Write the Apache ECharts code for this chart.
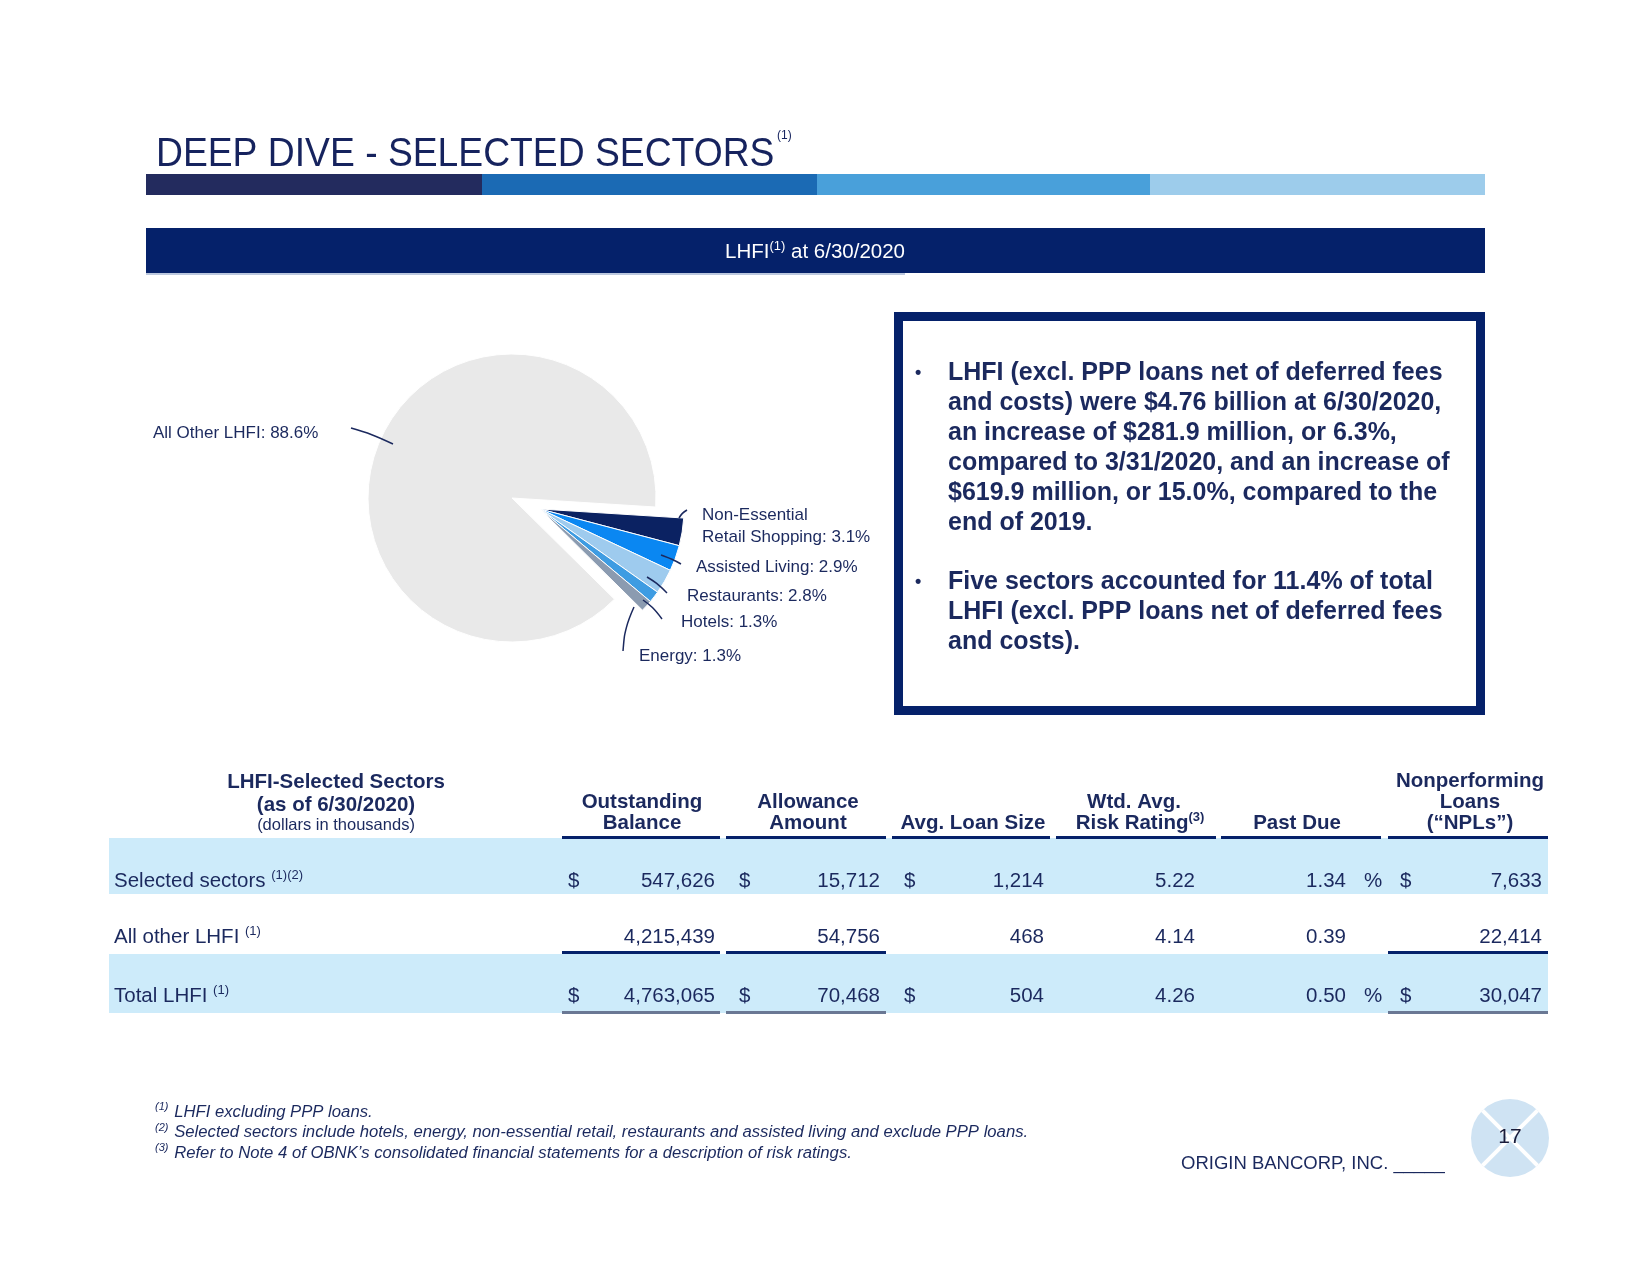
<!DOCTYPE html>
<html><head><meta charset="utf-8">
<script src="https://cdn.jsdelivr.net/npm/echarts@6/dist/echarts.min.js"></script>
<style>html,body{margin:0;padding:0;background:#fff}#c{width:1646px;height:1269px}</style>
</head><body><div id="c"></div>
<script>
// ---------------- data ----------------
const sectorNames = ['Non-Essential\nRetail Shopping', 'Assisted Living', 'Restaurants', 'Hotels', 'Energy', 'All Other LHFI'];
const sectorShares = [3.1, 2.9, 2.8, 1.3, 1.3, 88.6];
const selectedSectorIdx = [0, 1, 2, 3, 4];
const otherIdx = [5];

const tableHeaders = [['Outstanding', 'Balance'], ['Allowance', 'Amount'], ['Avg. Loan Size'], ['Wtd. Avg.', 'Risk Rating'], ['Past Due'], ['Nonperforming', 'Loans', '(“NPLs”)']];
const headerNotes = ['', '', '', '(3)', '', ''];
const rowLabels = ['Selected sectors', 'All other LHFI', 'Total LHFI'];
const rowNotes = ['(1)(2)', '(1)', '(1)'];
const outstandingBalance = [547626, 4215439, 4763065];
const allowanceAmount = [15712, 54756, 70468];
const avgLoanSize = [1214, 468, 504];
const riskRating = [5.22, 4.14, 4.26];
const pastDuePct = [1.34, 0.39, 0.50];
const nplAmount = [7633, 22414, 30047];
const currencyRows = [true, false, true];

const bulletOne = ['LHFI (excl. PPP loans net of deferred fees', 'and costs) were $4.76 billion at 6/30/2020,', 'an increase of $281.9 million, or 6.3%,', 'compared to 3/31/2020, and an increase of', '$619.9 million, or 15.0%, compared to the', 'end of 2019.'];
const bulletTwo = ['Five sectors accounted for 11.4% of total', 'LHFI (excl. PPP loans net of deferred fees', 'and costs).'];
const footnotes = [['(1)', 'LHFI excluding PPP loans.'], ['(2)', 'Selected sectors include hotels, energy, non-essential retail, restaurants and assisted living and exclude PPP loans.'], ['(3)', 'Refer to Note 4 of OBNK’s consolidated financial statements for a description of risk ratings.']];

// ---------------- styles / layout ----------------
const F = "'Liberation Sans', Arial, Helvetica, sans-serif";
const NAVY = '#1B295E';
const BAND = '#05216A';
const sectorColors = ['#0B2262', '#0A87F2', '#9ECBEE', '#3E9CE2', '#8B9BB0', '#E9E9E9'];
const labelSpots = [
  {x: 702, y: 526, line: [[679, 518], [682, 513], [687, 510]]},
  {x: 696, y: 567, line: [[661, 555], [672, 559], [681, 564]]},
  {x: 687, y: 596, line: [[647, 577], [657, 583], [667, 593]]},
  {x: 681, y: 622, line: [[643, 600], [653, 607], [662, 619]]},
  {x: 639, y: 656, line: [[634, 607], [625, 627], [623, 651]]},
  {x: 153, y: 433, line: [[351, 428], [372, 434], [393, 444]]}
];

function pieData(showIdx, labelsOnly) {
  return sectorNames.map((n, i) => {
    const vis = showIdx.indexOf(i) >= 0 && !labelsOnly;
    return {
      name: n, value: sectorShares[i],
      itemStyle: vis ? {color: sectorColors[i]} : {color: 'rgba(0,0,0,0)', borderWidth: 0},
      label: {show: !!labelsOnly}, labelLine: {show: !!labelsOnly}
    };
  });
}
const pieCommon = {
  type: 'pie', radius: 144, startAngle: -3.6, clockwise: true,
  avoidLabelOverlap: false, silent: true, animation: false,
  itemStyle: {borderColor: '#fff', borderWidth: 1},
  label: {show: false},
  labelLine: {show: false},
  emphasis: {disabled: true}
};
const labelSeries = Object.assign({}, pieCommon, {
  z: 5,
  center: [512, 498],
  itemStyle: {color: 'rgba(0,0,0,0)', borderWidth: 0},
  label: {show: true, position: 'outside', fontFamily: F, fontSize: 17, color: NAVY, lineHeight: 22,
    formatter: p => p.name + ': ' + p.value.toFixed(1) + '%'},
  labelLine: {show: true, smooth: 0.4, lineStyle: {color: NAVY, width: 1.5}},
  labelLayout: p => {
    const L = labelSpots[p.dataIndex];
    return {x: L.x, y: L.y, align: 'left', verticalAlign: 'middle', labelLinePoints: L.line};
  },
  data: pieData([0, 1, 2, 3, 4, 5], true)
});

// ---------------- graphics ----------------
const G = [];
function T(x, y, text, o) {
  o = o || {};
  const el = {type: 'text', x: x, y: y, silent: true, z: 10,
    style: Object.assign({text: text, fontFamily: F, fontSize: 20.5, fill: NAVY, align: 'left', verticalAlign: 'middle'}, o.style || {})};
  if (o.scaleX) el.scaleX = o.scaleX;
  G.push(el);
}
function R(x, y, w, h, fill, z) {
  G.push({type: 'rect', silent: true, z: z || 1, shape: {x: x, y: y, width: w, height: h}, style: {fill: fill}});
}

// title
T(156, 155, 'DEEP DIVE - SELECTED SECTORS', {scaleX: 0.92, style: {fontSize: 40.5, fill: '#16235E'}});
T(777, 136, '(1)', {style: {fontSize: 12, fill: '#16235E'}});
// colour bar
[['#232B5E', 146, 482], ['#1B6AB4', 482, 817], ['#49A0DA', 817, 1150], ['#9DCCEB', 1150, 1485]].forEach(s => R(s[1], 174, s[2] - s[1], 21, s[0]));
// band
R(146, 228, 1339, 45, BAND);
R(146, 273, 759, 2, '#BCC8DE');
T(815, 252, '{a|LHFI}{s|(1)}{a| at 6/30/2020}', {style: {align: 'center', fill: '#fff',
  rich: {a: {fontFamily: F, fontSize: 20.5, fill: '#fff', lineHeight: 24}, s: {fontFamily: F, fontSize: 13, fill: '#fff', verticalAlign: 'top', lineHeight: 24}}}});

// text box
G.push({type: 'rect', silent: true, z: 1, shape: {x: 898.5, y: 316.5, width: 582, height: 394}, style: {fill: '#fff', stroke: BAND, lineWidth: 9}});
const b1y = 373, lh = 30;
T(915, b1y, '•', {style: {fontSize: 18, fontWeight: 'bold'}});
bulletOne.forEach((s, i) => T(948, b1y + i * lh, s, {style: {fontSize: 25, fontWeight: 'bold'}}));
const b2y = 582;
T(915, b2y, '•', {style: {fontSize: 18, fontWeight: 'bold'}});
bulletTwo.forEach((s, i) => T(948, b2y + i * lh, s, {style: {fontSize: 25, fontWeight: 'bold'}}));

// table
const segX = [[562, 720], [726, 886], [892, 1050], [1056, 1216], [1221, 1381], [1388, 1548]];
const headCx = [642, 808, 973, 1134, 1297, 1470];
const rowY = [881, 937, 996];
R(109, 838, 1439, 56, '#CDEBFA');
R(109, 954, 1439, 59, '#CDEBFA');
T(336, 782, 'LHFI-Selected Sectors', {style: {align: 'center', fontWeight: 'bold'}});
T(336, 805, '(as of 6/30/2020)', {style: {align: 'center', fontWeight: 'bold'}});
T(336, 825, '(dollars in thousands)', {style: {align: 'center', fontSize: 16.5}});
tableHeaders.forEach((lines, c) => {
  const n = lines.length;
  lines.forEach((s, k) => {
    const y = 823 - (n - 1 - k) * 21;
    if (k === n - 1 && headerNotes[c]) {
      T(headCx[c] + 6, y, '{a|' + s + '}{s|' + headerNotes[c] + '}', {style: {align: 'center',
        rich: {a: {fontFamily: F, fontSize: 20.5, fontWeight: 'bold', fill: NAVY, lineHeight: 24},
               s: {fontFamily: F, fontSize: 13, fontWeight: 'bold', fill: NAVY, verticalAlign: 'top', lineHeight: 24}}}});
    } else {
      T(headCx[c], y, s, {style: {align: 'center', fontWeight: 'bold'}});
    }
  });
});
segX.forEach(s => R(s[0], 836, s[1] - s[0], 3, BAND, 3));
[0, 1, 5].forEach(i => R(segX[i][0], 951, segX[i][1] - segX[i][0], 3, BAND, 3));
[0, 1, 5].forEach(i => R(segX[i][0], 1011, segX[i][1] - segX[i][0], 3, '#6A7894', 3));

const fmtInt = v => v.toLocaleString('en-US');
const valRight = [715, 880, 1044, 1195, 1346, 1542];
const dollarLeft = [568, 739, 904, null, null, 1400];
rowLabels.forEach((lab, r) => {
  const y = rowY[r];
  T(114, y, '{a|' + lab + ' }{s|' + rowNotes[r] + '}', {style: {
    rich: {a: {fontFamily: F, fontSize: 20.5, fill: NAVY, lineHeight: 24}, s: {fontFamily: F, fontSize: 13, fill: NAVY, verticalAlign: 'top', lineHeight: 24}}}});
  const vals = [fmtInt(outstandingBalance[r]), fmtInt(allowanceAmount[r]), fmtInt(avgLoanSize[r]), riskRating[r].toFixed(2), pastDuePct[r].toFixed(2), fmtInt(nplAmount[r])];
  vals.forEach((v, c) => T(valRight[c], y, v, {style: {align: 'right'}}));
  if (currencyRows[r]) {
    dollarLeft.forEach(x => { if (x !== null) T(x, y, '$'); });
    T(1364, y, '%');
  }
});

// footnotes
footnotes.forEach((f, i) => {
  T(155, 1112 + i * 20.5, '{s|' + f[0] + '} {a|' + f[1] + '}', {style: {
    rich: {a: {fontFamily: F, fontSize: 16.7, fontStyle: 'italic', fill: NAVY, lineHeight: 20}, s: {fontFamily: F, fontSize: 11, fontStyle: 'italic', fill: NAVY, verticalAlign: 'top', lineHeight: 20}}}});
});
T(1181, 1164, 'ORIGIN BANCORP, INC. _____', {style: {fontSize: 18.5}});

// logo
G.push({type: 'circle', silent: true, z: 1, shape: {cx: 1510, cy: 1138, r: 39}, style: {fill: '#CFE3F3'}});
const d = 39 * 0.7071;
G.push({type: 'line', silent: true, z: 2, shape: {x1: 1510 - d, y1: 1138 - d, x2: 1510 + d, y2: 1138 + d}, style: {stroke: '#fff', lineWidth: 4}});
G.push({type: 'line', silent: true, z: 2, shape: {x1: 1510 + d, y1: 1138 - d, x2: 1510 - d, y2: 1138 + d}, style: {stroke: '#fff', lineWidth: 4}});
T(1510, 1137, '17', {style: {align: 'center', fontSize: 21, fill: '#1A1C3A'}});

const chart = echarts.init(document.getElementById('c'), null, {renderer: 'canvas'});
chart.setOption({
  backgroundColor: '#fff',
  animation: false,
  graphic: {elements: G},
  series: [
    Object.assign({}, pieCommon, {z: 2, center: [512, 498], data: pieData(otherIdx)}),
    Object.assign({}, pieCommon, {z: 3, center: [540, 509], data: pieData(selectedSectorIdx)}),
    labelSeries
  ]
});
</script>
</body></html>
